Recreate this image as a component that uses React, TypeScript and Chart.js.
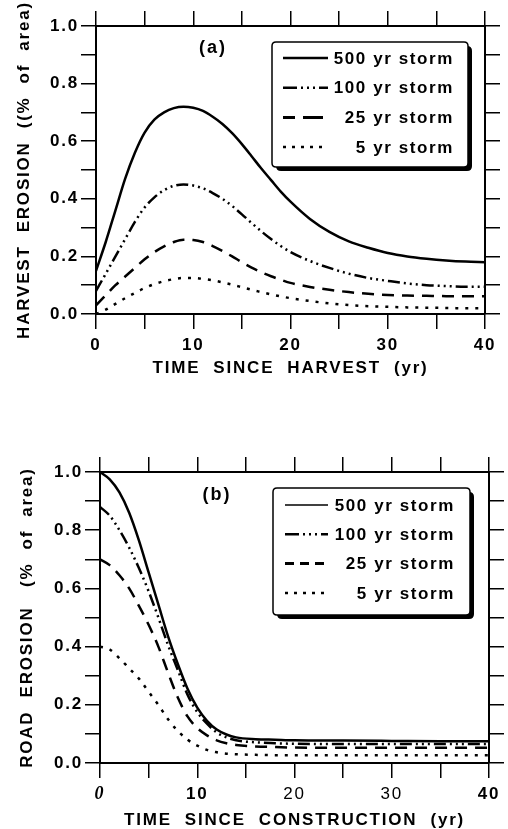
import React, { useEffect, useRef } from "react";
import { Chart, registerables } from "chart.js";

Chart.register(...registerables);

const SERIES_NAMES = ["500 yr storm", "100 yr storm", "25 yr storm", "5 yr storm"];
const X_TICK_LABELS = ["0", "10", "20", "30", "40"];
const Y_TICK_LABELS = ["0.0", "0.2", "0.4", "0.6", "0.8", "1.0"];

// (a) Harvest erosion
const HARVEST_YEARS = [0, 1, 2, 3, 4, 5, 6, 7, 8, 9, 10, 11, 12, 13, 14, 15, 16, 17, 18, 19, 20, 22, 24, 26, 28, 30, 32, 34, 36, 38, 40];
const HARVEST_500 = [0.15, 0.25, 0.36, 0.47, 0.56, 0.63, 0.675, 0.70, 0.715, 0.72, 0.716, 0.705, 0.685, 0.66, 0.628, 0.59, 0.548, 0.505, 0.465, 0.425, 0.39, 0.33, 0.285, 0.252, 0.23, 0.212, 0.2, 0.192, 0.186, 0.182, 0.18];
const HARVEST_100 = [0.08, 0.14, 0.20, 0.26, 0.32, 0.37, 0.405, 0.43, 0.445, 0.45, 0.446, 0.436, 0.42, 0.40, 0.375, 0.346, 0.316, 0.287, 0.26, 0.236, 0.215, 0.184, 0.16, 0.14, 0.125, 0.115, 0.106, 0.10, 0.097, 0.095, 0.095];
const HARVEST_25 = [0.03, 0.065, 0.10, 0.13, 0.16, 0.19, 0.215, 0.235, 0.25, 0.258, 0.257, 0.25, 0.236, 0.219, 0.2, 0.18, 0.161, 0.145, 0.131, 0.119, 0.108, 0.094, 0.084, 0.076, 0.07, 0.066, 0.064, 0.063, 0.062, 0.062, 0.062];
const HARVEST_5 = [0.0, 0.015, 0.035, 0.055, 0.073, 0.09, 0.104, 0.114, 0.121, 0.125, 0.125, 0.122, 0.117, 0.11, 0.102, 0.093, 0.084, 0.076, 0.068, 0.061, 0.055, 0.045, 0.037, 0.031, 0.027, 0.025, 0.023, 0.022, 0.021, 0.02, 0.02];

// (b) Road erosion
const ROAD_YEARS = [0, 1, 2, 3, 4, 5, 6, 7, 8, 9, 10, 11, 12, 13, 14, 16, 18, 20, 25, 30, 35, 40];
const ROAD_500 = [1.0, 0.975, 0.93, 0.86, 0.765, 0.655, 0.545, 0.435, 0.34, 0.255, 0.19, 0.145, 0.115, 0.098, 0.088, 0.082, 0.08, 0.078, 0.077, 0.076, 0.075, 0.075];
const ROAD_100 = [0.88, 0.85, 0.80, 0.74, 0.67, 0.59, 0.50, 0.405, 0.32, 0.235, 0.175, 0.135, 0.105, 0.088, 0.078, 0.071, 0.068, 0.066, 0.065, 0.065, 0.065, 0.065];
const ROAD_25 = [0.70, 0.68, 0.645, 0.60, 0.54, 0.475, 0.40, 0.31, 0.225, 0.16, 0.12, 0.095, 0.078, 0.068, 0.062, 0.057, 0.055, 0.053, 0.052, 0.052, 0.052, 0.052];
const ROAD_5 = [0.40, 0.39, 0.36, 0.325, 0.29, 0.245, 0.20, 0.15, 0.11, 0.08, 0.06, 0.045, 0.037, 0.032, 0.03, 0.028, 0.027, 0.027, 0.027, 0.027, 0.027, 0.027];

const FONT = '"Liberation Sans", Arial, Helvetica, sans-serif';
const DASHES = [[], [12, 4, 2, 4, 2, 4, 2, 4], [12, 8], [3, 7]];

function roundRect(ctx: CanvasRenderingContext2D, x: number, y: number, w: number, h: number, r: number) {
  ctx.beginPath();
  ctx.moveTo(x + r, y);
  ctx.lineTo(x + w - r, y);
  ctx.quadraticCurveTo(x + w, y, x + w, y + r);
  ctx.lineTo(x + w, y + h - r);
  ctx.quadraticCurveTo(x + w, y + h, x + w - r, y + h);
  ctx.lineTo(x + r, y + h);
  ctx.quadraticCurveTo(x, y + h, x, y + h - r);
  ctx.lineTo(x, y + r);
  ctx.quadraticCurveTo(x, y, x + r, y);
  ctx.closePath();
}

const decorPlugin = {
  id: "decor",
  beforeDraw(chart: any) {
    (chart.ctx as any).letterSpacing = "1.8px";
  },
  afterDraw(chart: any, _args: any, opts: any) {
    const ctx: CanvasRenderingContext2D = chart.ctx;
    const area = chart.chartArea;
    ctx.save();
    (ctx as any).letterSpacing = "2px";
    ctx.fillStyle = "#000";
    ctx.font = `bold 18px ${FONT}`;
    ctx.textAlign = "center";
    ctx.textBaseline = "middle";
    ctx.fillText(opts.panel, area.left + opts.panelX, area.top + opts.panelY);

    const bx = area.left + opts.box.x;
    const by = area.top + opts.box.y;
    const bw = opts.box.w;
    const bh = opts.box.h;
    ctx.fillStyle = "#000";
    roundRect(ctx, bx + 4, by + 4, bw, bh, 5);
    ctx.fill();
    ctx.fillStyle = "#fff";
    roundRect(ctx, bx, by, bw, bh, 4);
    ctx.fill();
    ctx.lineWidth = 1.5;
    ctx.strokeStyle = "#000";
    ctx.stroke();

    (ctx as any).letterSpacing = "1.6px";
    ctx.font = `bold 17px ${FONT}`;
    ctx.textAlign = "right";
    chart.data.datasets.forEach((ds: any, i: number) => {
      const y = by + opts.rowY0 + i * opts.rowGap;
      ctx.save();
      ctx.beginPath();
      ctx.setLineDash(opts.legendDashes ? opts.legendDashes[i] : ds.borderDash || []);
      ctx.lineWidth = opts.legendWidths ? opts.legendWidths[i] : ds.borderWidth;
      ctx.strokeStyle = "#000";
      ctx.moveTo(bx + opts.lineX0, y);
      ctx.lineTo(bx + opts.lineX1, y);
      ctx.stroke();
      ctx.restore();
      ctx.fillStyle = "#000";
      ctx.fillText(ds.label, bx + opts.textRight, y + 1);
    });
    ctx.restore();
  },
};

function makeConfig(p: any) {
  const datasets = p.series.map((vals: number[], i: number) => ({
    label: SERIES_NAMES[i],
    data: p.years.map((x: number, j: number) => ({ x, y: vals[j] })),
    borderColor: "#000",
    borderWidth: 2.5,
    borderDash: DASHES[i],
    pointRadius: 0,
    fill: false,
    cubicInterpolationMode: "monotone",
    xAxisID: "x",
    yAxisID: "y",
  }));
  const grid = {
    display: true,
    drawOnChartArea: false,
    drawTicks: true,
    tickLength: 15,
    tickWidth: 1.5,
    tickColor: "#000",
    color: "#000",
    lineWidth: 1.5,
  };
  const border = { display: true, color: "#000", width: 2 };
  const xLabel = (v: any) => (X_TICK_LABELS.includes(String(v)) ? String(v) : "");
  const yLabel = (v: any) => {
    const s = Number(v).toFixed(1);
    return Y_TICK_LABELS.includes(s) ? s : "";
  };
  return {
    type: "line",
    data: { datasets },
    plugins: [decorPlugin],
    options: {
      responsive: false,
      animation: false,
      layout: { padding: 0 },
      plugins: {
        legend: { display: false },
        tooltip: { enabled: false },
        decor: p.decor,
      },
      scales: {
        x: {
          type: "linear",
          position: "bottom",
          min: 0,
          max: 40,
          ticks: {
            stepSize: 5,
            autoSkip: false,
            maxRotation: 0,
            padding: 6,
            color: "#000",
            font: p.xTickFont,
            callback: xLabel,
          },
          grid,
          border,
          title: {
            display: true,
            text: p.xTitle,
            color: "#000",
            font: { family: FONT, size: 17, weight: "bold", lineHeight: 1 },
            padding: { top: 0, bottom: 0 },
          },
          afterFit: (s: any) => {
            s.height = p.xHeight;
          },
        },
        x2: {
          type: "linear",
          position: "top",
          min: 0,
          max: 40,
          ticks: { stepSize: 5, display: false },
          grid,
          border,
          afterFit: (s: any) => {
            s.height = p.x2Height;
          },
        },
        y: {
          type: "linear",
          position: "left",
          min: 0,
          max: 1,
          ticks: {
            stepSize: 0.1,
            autoSkip: false,
            padding: 2,
            color: "#000",
            font: { family: FONT, size: 17, weight: "bold" },
            callback: yLabel,
          },
          grid,
          border,
          title: {
            display: true,
            text: p.yTitle,
            color: "#000",
            font: { family: FONT, size: 17, weight: "bold", lineHeight: 1 },
            padding: { top: p.yTitlePad, bottom: 0 },
          },
          afterFit: (s: any) => {
            s.width = p.yWidth;
          },
        },
        y2: {
          type: "linear",
          position: "right",
          min: 0,
          max: 1,
          ticks: { stepSize: 0.1, display: false },
          grid,
          border,
          afterFit: (s: any) => {
            s.width = p.y2Width;
          },
        },
      },
    },
  };
}

function ChartCanvas(props: { config: any; width: number; height: number; top: number }) {
  const ref = useRef<HTMLCanvasElement | null>(null);
  useEffect(() => {
    if (!ref.current) return;
    const chart = new Chart(ref.current, props.config);
    return () => chart.destroy();
  }, []);
  return (
    <canvas
      ref={ref}
      width={props.width}
      height={props.height}
      style={{ position: "absolute", left: 0, top: props.top, width: props.width, height: props.height }}
    />
  );
}

const harvestConfig = makeConfig({
  years: HARVEST_YEARS,
  series: [HARVEST_500, HARVEST_100, HARVEST_25, HARVEST_5],
  xTitle: "TIME  SINCE  HARVEST  (yr)",
  yTitle: "HARVEST  EROSION  ((%  of  area)",
  xTickFont: { family: FONT, size: 17, weight: "bold" },
  xHeight: 63,
  x2Height: 26,
  yWidth: 96,
  y2Width: 23,
  yTitlePad: 16,
  decor: {
    panel: "(a)",
    panelX: 117,
    panelY: 22,
    box: { x: 176, y: 16, w: 196, h: 125 },
    rowY0: 16,
    rowGap: 29.7,
    lineX0: 11,
    lineX1: 56,
    textRight: 182,
    legendWidths: [2.5, 2.5, 3, 2.5],
    legendDashes: [[], [14, 4, 2, 4, 2, 4, 2, 4], [12, 8, 20, 100], [3, 6]],
  },
});

const roadTickFont = (ctx: any) => {
  const v = ctx.tick ? ctx.tick.value : null;
  if (v === 0) return { family: '"Liberation Serif", "Times New Roman", serif', size: 18, weight: "bold", style: "italic" };
  if (v === 20 || v === 30) return { family: FONT, size: 17, weight: "normal" };
  return { family: FONT, size: 17, weight: "bold" };
};

const roadConfig = makeConfig({
  years: ROAD_YEARS,
  series: [ROAD_500, ROAD_100, ROAD_25, ROAD_5],
  xTitle: "TIME  SINCE  CONSTRUCTION  (yr)",
  yTitle: "ROAD  EROSION   (%  of  area)",
  xTickFont: roadTickFont,
  xHeight: 66,
  x2Height: 52,
  yWidth: 100,
  y2Width: 19,
  yTitlePad: 18.5,
  decor: {
    panel: "(b)",
    panelX: 117,
    panelY: 23,
    box: { x: 173, y: 16, w: 197, h: 127 },
    rowY0: 17,
    rowGap: 29.3,
    lineX0: 12,
    lineX1: 55,
    textRight: 182,
    legendWidths: [1.5, 2.5, 3, 2.5],
    legendDashes: [[], [14, 4, 2, 4, 2, 4, 2, 4], [9, 6], [3, 6]],
  },
});

export default function App() {
  return (
    <div style={{ position: "absolute", left: 0, top: 0, width: 508, height: 829, background: "#fff" }}>
      <ChartCanvas config={harvestConfig} width={508} height={377} top={0} />
      <ChartCanvas config={roadConfig} width={508} height={409} top={420} />
    </div>
  );
}
